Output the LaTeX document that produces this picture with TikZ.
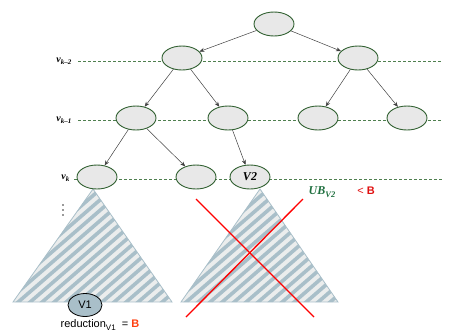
\documentclass[tikz,border=0pt]{standalone}
\usepackage{fontspec}
\setmainfont{Liberation Serif}
\setsansfont{Liberation Sans}
\usetikzlibrary{arrows.meta,shapes.geometric}
\definecolor{nodegreen}{HTML}{2F5F2F}
\definecolor{dashgreen}{HTML}{4F7F4F}
\definecolor{nodefill}{HTML}{E8E8E8}
\definecolor{stripe}{HTML}{A9BFC9}
\definecolor{tribg}{HTML}{EBEDED}
\definecolor{ubgreen}{HTML}{1F6F3F}
\definecolor{bred}{HTML}{E01010}
\definecolor{borange}{HTML}{FF4010}
\begin{document}
\begin{tikzpicture}[x=1pt,y=-1pt,
  tnode/.style={ellipse,draw=nodegreen,line width=0.9pt,fill=nodefill,minimum width=40pt,minimum height=24pt,inner sep=0pt},
  level/.style={draw=dashgreen,dashed,dash pattern=on 3pt off 2pt,line width=0.9pt},
  edge/.style={draw=black!75,line width=0.5pt,-{Stealth[length=5pt,width=4pt]}},
  lvl/.style={font=\bfseries\itshape\fontsize{10}{10}\selectfont,anchor=east,inner sep=0pt},
  cross/.style={draw=red,line width=1.3pt},
  tri/.style={draw=stripe,line width=0.8pt}]
\useasboundingbox (0,0) rectangle (456,333);
% triangles
\foreach \ax/\bl/\br in {93/13/172, 260/181/338}{
  \begin{scope}
    \clip (\ax,189) -- (\br,302) -- (\bl,302) -- cycle;
    \fill[tribg] (\bl,189) rectangle (\br,302);
    \foreach \i in {-160,-148,...,200}{
      \draw[stripe,line width=3.6pt] (\bl+\i,310) -- ++(150,-130);
    }
  \end{scope}
  \draw[tri] (\ax,189) -- (\br,302) -- (\bl,302) -- cycle;
}
% level lines
\coordinate (l2a) at (78,61); \coordinate (l2b) at (442,61);
\coordinate (l1a) at (78,120); \coordinate (l1b) at (442,120);
\coordinate (l0a) at (74,179); \coordinate (l0b) at (442,179);
\draw[level] (l2a) -- (l2b);
\draw[level] (l1a) -- (l1b);
\draw[level] (l0a) -- (l0b);
\node[lvl] (t2) at (72,61) {v\textsubscript{k–2}};
\node[lvl] (t1) at (72,120) {v\textsubscript{k–1}};
\node[lvl] (t0) at (70,178) {v\textsubscript{k}};
\foreach \yy in {205,210,215}{\fill[black!80] (63,\yy) circle (0.8pt);}
% nodes
\node[tnode] (r) at (274,24) {};
\node[tnode] (a) at (182,58) {};
\node[tnode] (b) at (358,58) {};
\node[tnode] (c) at (136,118) {};
\node[tnode] (d) at (228,118) {};
\node[tnode] (e) at (318,118) {};
\node[tnode] (f) at (407,118) {};
\node[tnode] (g) at (97,177) {};
\node[tnode] (h) at (196,177) {};
\node[tnode,font=\bfseries\itshape\fontsize{12}{12}\selectfont] (v2) at (250,177) {V2};
% edges
\draw[edge] (r) -- (a);
\draw[edge] (r) -- (b);
\draw[edge] (a) -- (c);
\draw[edge] (a) -- (d);
\draw[edge] (b) -- (e);
\draw[edge] (b) -- (f);
\draw[edge] (c) -- (g);
\draw[edge] (c) -- (h);
\draw[edge] (d) -- (v2);
% cross
\coordinate (x1) at (196,199); \coordinate (x2) at (314,317);
\coordinate (x3) at (303,199); \coordinate (x4) at (186,317);
\draw[cross] (x1) -- (x2);
\draw[cross] (x3) -- (x4);
% V1
\node[ellipse,draw=black,line width=0.8pt,fill=stripe,minimum width=34pt,minimum height=23pt,inner sep=0pt,font=\sffamily\fontsize{11}{11}\selectfont] (v1) at (85,305) {V1};
\node[font=\sffamily\fontsize{11}{12}\selectfont,inner sep=0pt] (red) at (100,325) {reduction\raisebox{-0.5ex}{\fontsize{8}{8}\selectfont V1}\ \ = {\color{borange}\bfseries B}};
% UB
\node[font=\bfseries\itshape\fontsize{12}{12}\selectfont,text=ubgreen,inner sep=0pt] (ub) at (322,192) {UB\raisebox{-0.5ex}{\fontsize{8.5}{8.5}\selectfont V2}};
\node[font=\sffamily\fontsize{11}{11}\selectfont,text=bred,inner sep=0pt] (lt) at (366,191) {<\ \bfseries B};
\end{tikzpicture}
\end{document}
